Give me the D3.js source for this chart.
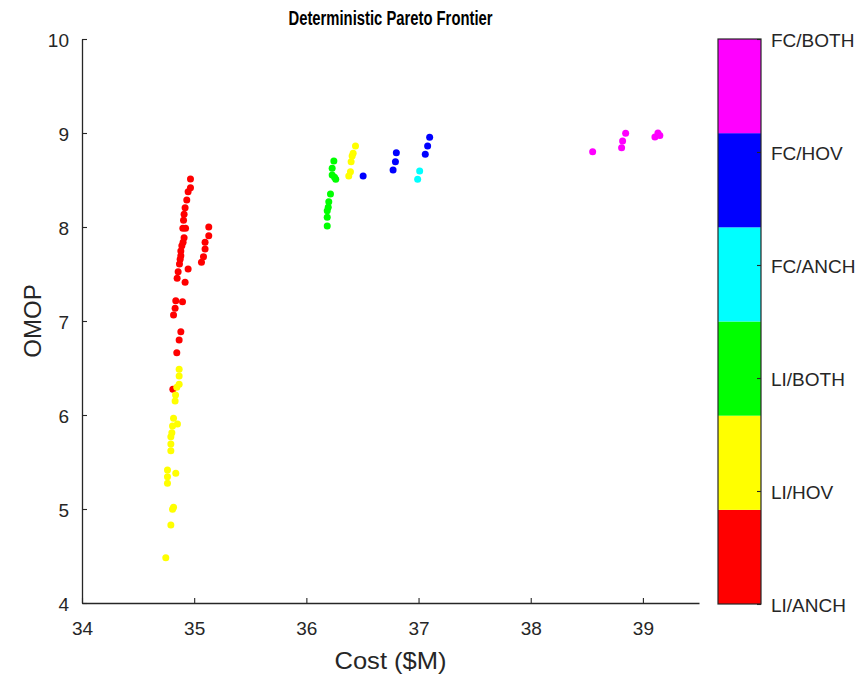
<!DOCTYPE html>
<html>
<head>
<meta charset="utf-8">
<script src="https://cdn.jsdelivr.net/npm/d3@7"></script>
<style>
  html, body { margin: 0; padding: 0; background: #fff; }
  svg { display: block; font-family: "Liberation Sans", Arial, sans-serif; }
</style>
</head>
<body>
<svg id="chart" width="861" height="681"></svg>
<script>
// Design classes, from bottom of the colour bar to the top
const categories = ["LI/ANCH", "LI/HOV", "LI/BOTH", "FC/ANCH", "FC/HOV", "FC/BOTH"];
const categoryColors = ["#ff0000", "#ffff00", "#00ff00", "#00ffff", "#0000ff", "#ff00ff"];

// Pareto designs: cost ($M) and OMOP per class
const liAnchCost = [34.967, 34.967, 34.946, 34.934, 34.919, 34.910, 34.905, 34.899, 34.923, 34.910,
  34.901, 34.890, 34.881, 34.881, 34.875, 34.869, 34.857, 34.848, 34.946, 34.919,
  35.130, 35.130, 35.097, 35.097, 35.083, 35.065,
  34.836, 34.896, 34.830, 34.816, 34.881, 34.866, 34.845, 34.810];
const liAnchOmop = [8.511, 8.418, 8.376, 8.287, 8.205, 8.135, 8.071, 7.986, 7.986, 7.886,
  7.837, 7.801, 7.745, 7.695, 7.656, 7.606, 7.524, 7.454, 7.553, 7.412,
  8.000, 7.907, 7.837, 7.766, 7.684, 7.624,
  7.216, 7.205, 7.135, 7.064, 6.886, 6.798, 6.663, 6.273];

const liHovCost = [34.866, 34.866, 34.866, 34.845, 34.834, 34.830, 34.816, 34.851, 34.807, 34.801,
  34.792, 34.792, 34.792, 34.762, 34.762, 34.762, 34.836, 34.816, 34.807, 34.792, 34.747,
  36.438, 36.417, 36.408, 36.399, 36.393, 36.378];
const liHovOmop = [6.486, 6.415, 6.327, 6.295, 6.213, 6.149, 5.965, 5.904, 5.883, 5.812,
  5.769, 5.691, 5.620, 5.415, 5.344, 5.273, 5.380, 5.018, 4.997, 4.830, 4.482,
  8.862, 8.784, 8.755, 8.695, 8.588, 8.543];

const liBothCost = [36.245, 36.230, 36.230, 36.251, 36.262, 36.215, 36.200, 36.195, 36.186, 36.186, 36.186];
const liBothOmop = [8.702, 8.624, 8.553, 8.529, 8.507, 8.351, 8.269, 8.210, 8.173, 8.103, 8.011];

const fcAnchCost = [37.010, 36.992];
const fcAnchOmop = [8.596, 8.507];

const fcHovCost = [36.506, 36.802, 36.794, 36.773, 37.099, 37.081, 37.060];
const fcHovOmop = [8.543, 8.790, 8.695, 8.606, 8.954, 8.862, 8.773];

const fcBothCost = [38.552, 38.810, 38.819, 38.846, 39.107, 39.134, 39.151];
const fcBothOmop = [8.801, 8.844, 8.915, 8.997, 8.957, 9.000, 8.973];

const xTicks = [34, 35, 36, 37, 38, 39];
const yTicks = [4, 5, 6, 7, 8, 9, 10];

const seriesCost = [liAnchCost, liHovCost, liBothCost, fcAnchCost, fcHovCost, fcBothCost];
const seriesOmop = [liAnchOmop, liHovOmop, liBothOmop, fcAnchOmop, fcHovOmop, fcBothOmop];

const svg = d3.select("#chart");
const axisColor = "#262626";
const fontStack = "Liberation Sans, Arial, sans-serif";

const plot = { left: 82, right: 699, top: 39, bottom: 603 };
const x = d3.scaleLinear().domain([34, 39.5]).range([plot.left, plot.right]);
const y = d3.scaleLinear().domain([4, 10]).range([plot.bottom, plot.top]);

// Axes with inward ticks
const xAxis = svg.append("g")
  .attr("transform", `translate(0,${plot.bottom})`)
  .call(d3.axisBottom(x).tickValues(xTicks).tickFormat(d3.format("d")).tickSizeInner(-5).tickSizeOuter(0).tickPadding(19));
const yAxis = svg.append("g")
  .attr("transform", `translate(${plot.left},0)`)
  .call(d3.axisLeft(y).tickValues(yTicks).tickFormat(d3.format("d")).tickSizeInner(-5).tickSizeOuter(0).tickPadding(13));

[xAxis, yAxis].forEach(g => {
  g.select(".domain").attr("stroke", axisColor).attr("stroke-width", 1.3);
  g.selectAll(".tick line").attr("stroke", axisColor).attr("stroke-width", 1.1);
  g.selectAll(".tick text").attr("fill", axisColor).attr("font-size", 19).attr("font-family", fontStack);
});
yAxis.selectAll(".tick text").attr("dy", "0.42em");

// Scatter points, one group per design class
const dots = svg.append("g");
seriesCost.forEach((costs, i) => {
  const pts = costs.map((c, j) => ({ c, o: seriesOmop[i][j] }));
  dots.selectAll(null).data(pts).enter().append("circle")
    .attr("cx", d => x(d.c))
    .attr("cy", d => y(d.o))
    .attr("r", 3.5)
    .attr("fill", categoryColors[i]);
});

// Title and axis labels
svg.append("text")
  .attr("x", (plot.left + plot.right) / 2).attr("y", 25)
  .attr("text-anchor", "middle").attr("font-weight", "bold").attr("font-size", 20)
  .attr("textLength", 204).attr("lengthAdjust", "spacingAndGlyphs")
  .attr("fill", "#000").text("Deterministic Pareto Frontier");
svg.append("text")
  .attr("x", (plot.left + plot.right) / 2).attr("y", 669)
  .attr("text-anchor", "middle").attr("font-size", 24).attr("fill", axisColor)
  .attr("textLength", 112).attr("lengthAdjust", "spacingAndGlyphs")
  .text("Cost ($M)");
svg.append("text")
  .attr("transform", `translate(41,${(plot.top + plot.bottom) / 2}) rotate(-90)`)
  .attr("text-anchor", "middle").attr("font-size", 24).attr("fill", axisColor)
  .text("OMOP");

// Colour bar
const cb = { left: 718, width: 43, top: 39, bottom: 604 };
const cbBand = d3.scaleBand().domain(d3.range(categories.length)).range([cb.bottom, cb.top]);
const cbGroup = svg.append("g");
cbGroup.selectAll("rect.seg").data(d3.range(categories.length)).enter().append("rect")
  .attr("class", "seg")
  .attr("x", cb.left).attr("width", cb.width)
  .attr("y", d => cbBand(d))
  .attr("height", cbBand.bandwidth())
  .attr("fill", d => categoryColors[d]);
cbGroup.append("rect")
  .attr("x", cb.left).attr("y", cb.top).attr("width", cb.width).attr("height", cb.bottom - cb.top)
  .attr("fill", "none").attr("stroke", axisColor).attr("stroke-width", 1.2);

const cbScale = d3.scaleLinear().domain([0, categories.length - 1]).range([cb.bottom, cb.top]);
const cbAxis = svg.append("g")
  .attr("transform", `translate(${cb.left + cb.width},0)`)
  .call(d3.axisRight(cbScale).tickValues(d3.range(categories.length)).tickFormat(i => categories[i])
    .tickSizeInner(-4).tickSizeOuter(0).tickPadding(10));
cbAxis.select(".domain").remove();
cbAxis.selectAll(".tick line").attr("stroke", axisColor).attr("stroke-width", 1.1);
cbAxis.selectAll(".tick text").attr("fill", axisColor).attr("font-size", 19)
  .attr("font-family", fontStack).attr("dy", "0.42em");
</script>
</body>
</html>
